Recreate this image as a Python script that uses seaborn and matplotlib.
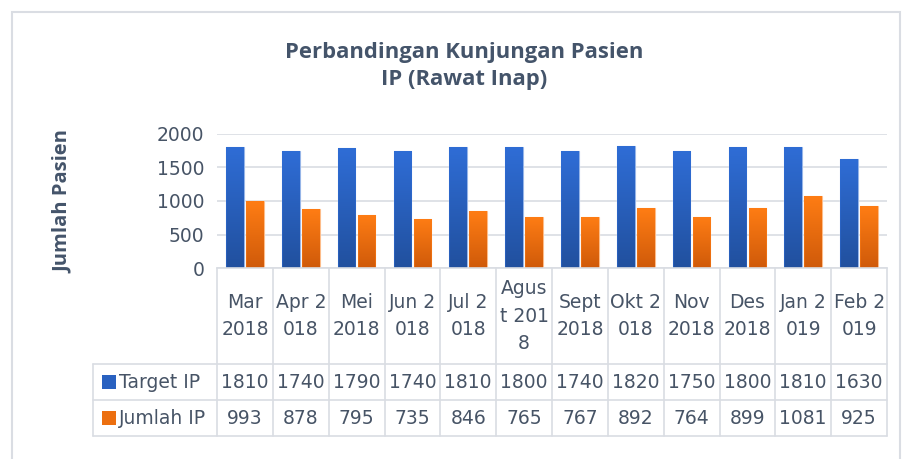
import numpy as np
import pandas as pd
import matplotlib
matplotlib.use("Agg")
import matplotlib.pyplot as plt
import matplotlib.colors as mcolors
from matplotlib.transforms import blended_transform_factory
from matplotlib.patches import Rectangle
import seaborn as sns

# ---------------- data ----------------
categories = ["Mar\n2018", "Apr 2\n018", "Mei\n2018", "Jun 2\n018", "Jul 2\n018",
              "Agus\nt 201\n8", "Sept\n2018", "Okt 2\n018", "Nov\n2018", "Des\n2018",
              "Jan 2\n019", "Feb 2\n019"]
target_ip = [1810, 1740, 1790, 1740, 1810, 1800, 1740, 1820, 1750, 1800, 1810, 1630]
jumlah_ip = [993, 878, 795, 735, 846, 765, 767, 892, 764, 899, 1081, 925]
series_names = ["Target IP", "Jumlah IP"]
yticks = [0, 500, 1000, 1500, 2000]
title = "Perbandingan Kunjungan Pasien\nIP (Rawat Inap)"
ylabel = "Jumlah Pasien"

df = pd.DataFrame({
    "Bulan": categories * 2,
    "Seri": [series_names[0]] * len(categories) + [series_names[1]] * len(categories),
    "Nilai": target_ip + jumlah_ip,
})

# ---------------- style ----------------
sns.set_theme(style="white")
plt.rcParams["font.family"] = ["DejaVu Sans"]
TEXT = "#475466"
TITLE = "#44546A"
GRID = "#D9DDE3"
blue_top, blue_bot = "#2F6DD6", "#21509E"
orange_top, orange_bot = "#FF7D14", "#CF5A0A"
FS = 13.5

W, H = 902, 459
fig = plt.figure(figsize=(W / 100, H / 100), dpi=100)
fig.patch.set_facecolor("white")

def fx(px):
    return px / W

def fy(py):
    return 1 - py / H

# plot area in pixels
L, R, T, B = 217, 887, 134, 268
ax = fig.add_axes([fx(L), fy(B), fx(R) - fx(L), (B - T) / H])

sns.barplot(data=df, x="Bulan", y="Nilai", hue="Seri", order=categories,
            hue_order=series_names, palette=[blue_top, orange_top],
            width=0.72, gap=0.12, ax=ax, legend=False, saturation=1)

ax.set_xlim(-0.5, len(categories) - 0.5)
ax.set_ylim(0, 2000)
ax.set_yticks(yticks)
ax.set_yticklabels([str(v) for v in yticks], fontsize=FS, color=TEXT)
ax.tick_params(axis="y", length=0, pad=9)
ax.set_xticks([])
ax.set_xlabel("")
ax.set_ylabel("")
for s in ["top", "right", "left"]:
    ax.spines[s].set_visible(False)
ax.spines["bottom"].set_color(GRID)
ax.spines["bottom"].set_linewidth(1.2)
ax.yaxis.grid(True, color=GRID, linewidth=1.2)
ax.set_axisbelow(True)

# gradient fill for bars
def grad_cmap(top, bot):
    return mcolors.LinearSegmentedColormap.from_list("g", [bot, top])

cmaps = [grad_cmap(blue_top, blue_bot), grad_cmap(orange_top, orange_bot)]
patches = list(ax.patches)
n = len(categories)
for i, p in enumerate(patches[:2 * n]):
    cm = cmaps[i // n]
    x0, y0 = p.get_x(), p.get_y()
    w, h = p.get_width(), p.get_height()
    grad = np.linspace(0, 1, 256).reshape(-1, 1)
    im = ax.imshow(grad, cmap=cm, origin="lower", aspect="auto",
                   extent=[x0, x0 + w, y0, y0 + h], zorder=p.get_zorder() + 0.1)
    im.set_clip_path(p)
    p.set_edgecolor("#FFFFFF")
    edge = Rectangle((x0, y0), w, h, fill=False,
                     edgecolor=mcolors.to_rgba(cm(0.95), 0.5),
                     linewidth=0.8, zorder=p.get_zorder() + 0.2)
    ax.add_patch(edge)
ax.set_xlim(-0.5, len(categories) - 0.5)
ax.set_ylim(0, 2000)

# ---------------- data table ----------------
tr = blended_transform_factory(ax.transData, fig.transFigure)
TL = 93
row_y = [364, 400, 436]
for yy in row_y:
    fig.add_artist(plt.Line2D([fx(TL), fx(R)], [fy(yy), fy(yy)], color=GRID,
                              linewidth=1.2, transform=fig.transFigure))
fig.add_artist(plt.Line2D([fx(TL), fx(TL)], [fy(364), fy(436)], color=GRID,
                          linewidth=1.2, transform=fig.transFigure))
for k in range(n + 1):
    xb = k - 0.5
    fig.add_artist(plt.Line2D([xb, xb], [fy(B), fy(436)], color=GRID,
                              linewidth=1.2, transform=tr))

# header labels
for k, lab in enumerate(categories):
    fig.text(k, fy(316), lab, transform=tr, ha="center", va="center",
             multialignment="center", fontsize=FS, color=TEXT, linespacing=1.55)

# rows
row_centers = [382, 418]
for r, (vals, name) in enumerate(zip([target_ip, jumlah_ip], series_names)):
    yc = fy(row_centers[r])
    for k, v in enumerate(vals):
        fig.text(k, yc, str(v), transform=tr, ha="center", va="center",
                 fontsize=FS, color=TEXT)
    fig.add_artist(Rectangle((fx(102), yc - 7 / H), 14 / W, 14 / H,
                             facecolor=cmaps[r](0.6), edgecolor="none",
                             transform=fig.transFigure))
    fig.text(fx(119), yc, name, ha="left", va="center", fontsize=FS, color=TEXT)

# title & y label
fig.text(fx(464), fy(66), title, ha="center", va="center", fontsize=15.8,
         fontweight="bold", color=TITLE, linespacing=1.4,
         family=["Open Sans", "DejaVu Sans"])
fig.text(fx(63), fy(202), ylabel, rotation=90, ha="center", va="center",
         fontsize=14.5, fontweight="bold", color=TITLE,
         family=["Open Sans", "DejaVu Sans"])

# chart border
fig.add_artist(Rectangle((fx(12), fy(470)), fx(900) - fx(12), (470 - 12) / H,
                         fill=False, edgecolor="#DADDE3", linewidth=1.5,
                         transform=fig.transFigure))

fig.savefig("out.png", dpi=100)
